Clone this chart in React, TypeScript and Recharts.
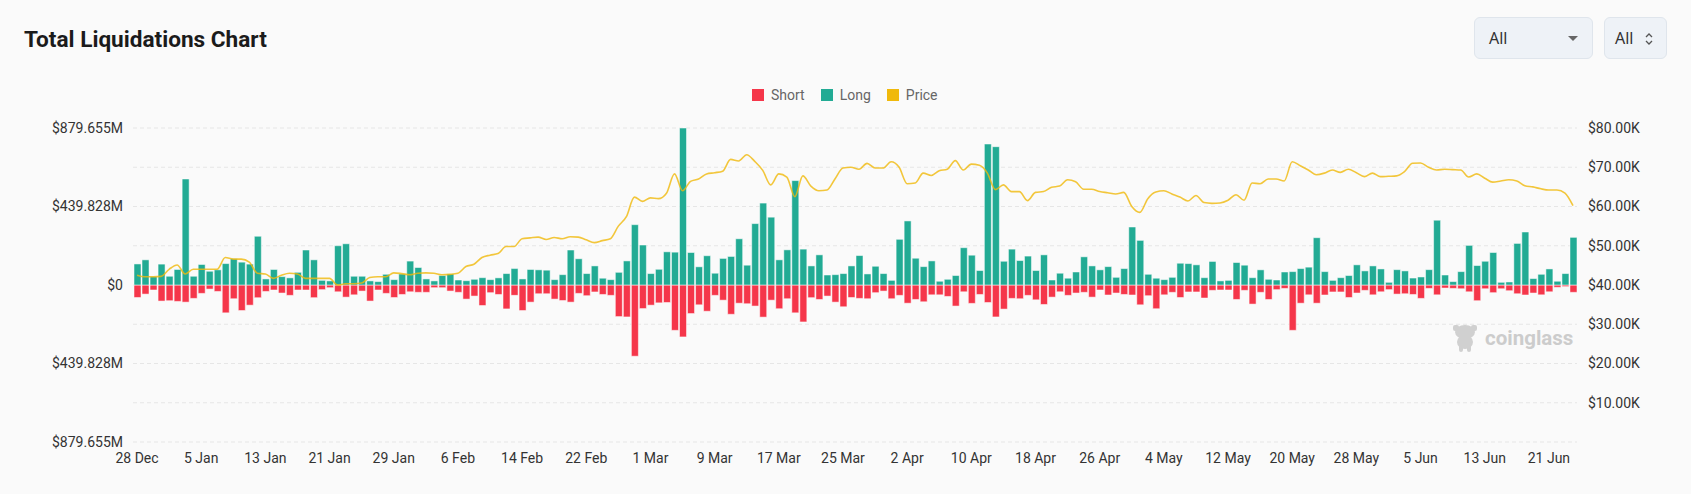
import { ComposedChart, Bar, Line, XAxis, YAxis, CartesianGrid } from 'recharts';

// Calendar spans: 28 Dec 2023 .. 24 Jun 2024, one bar per day
const MONTH_SPANS: [string, number, number][] = [
  ['Dec', 28, 31], ['Jan', 1, 31], ['Feb', 1, 29], ['Mar', 1, 31],
  ['Apr', 1, 30], ['May', 1, 31], ['Jun', 1, 24],
];
const dates = MONTH_SPANS.flatMap(([m, a, b]) =>
  Array.from({ length: b - a + 1 }, (_, k) => `${a + k} ${m}`)
);

// Long liquidations, $M
const longM = [
  118, 141, 47, 117, 49, 87, 594, 49, 115, 77, 85, 120, 147, 128, 117, 273, 34, 87, 47, 40, 71, 196, 141, 26, 23, 220, 231,
  49, 49, 23, 19, 60, 30, 62, 134, 98, 34, 23, 53, 62, 28, 24, 32, 41, 30, 40, 64, 92, 34, 87, 85, 83, 30, 58, 196,
  147, 64, 107, 38, 30, 71, 135, 338, 224, 64, 88, 186, 184, 879.655, 182, 102, 164, 66, 149, 160, 259, 111, 344, 459, 380, 141, 197, 585,
  201, 107, 169, 56, 58, 64, 107, 165, 62, 105, 64, 26, 256, 359, 150, 103, 135, 21, 32, 53, 209, 167, 81, 790, 775, 133, 201, 137, 162, 81, 169, 28,
  66, 38, 73, 158, 107, 85, 103, 43, 92, 325, 250, 60, 38, 30, 43, 122, 120, 113, 41, 132, 23, 26, 126, 111, 41, 85, 32, 28, 73, 75, 92, 100, 265,
  75, 26, 41, 53, 113, 79, 107, 90, 15, 86, 79, 39, 45, 86, 363, 56, 19, 75, 222, 109, 133, 182, 15, 17, 233, 297, 36, 60, 90, 21, 64, 267,
];

// Short liquidations, $M
const shortM = [
  70, 51, 28, 90, 88, 92, 96, 75, 47, 23, 36, 156, 77, 143, 113, 71, 36, 28, 45, 58, 28, 28, 71, 26, 15, 38, 68,
  55, 34, 90, 28, 47, 70, 53, 38, 41, 41, 15, 15, 34, 41, 79, 62, 115, 43, 53, 134, 58, 143, 96, 49, 49, 79, 87, 96,
  47, 60, 39, 53, 58, 177, 179, 399, 132, 113, 100, 98, 254, 291, 160, 111, 147, 58, 85, 164, 102, 105, 118, 180, 85, 133, 77, 156,
  207, 71, 81, 62, 96, 122, 70, 75, 77, 43, 34, 77, 58, 102, 81, 94, 55, 55, 64, 118, 38, 103, 53, 98, 179, 135, 75, 77, 58, 83, 109, 68,
  38, 58, 45, 41, 68, 28, 56, 45, 53, 56, 111, 60, 133, 55, 41, 70, 39, 39, 73, 30, 28, 28, 81, 30, 107, 41, 81, 26, 19, 254, 102, 55, 102,
  56, 39, 39, 70, 45, 30, 55, 38, 26, 51, 49, 53, 75, 19, 55, 17, 19, 21, 38, 88, 21, 43, 21, 32, 49, 56, 45, 55, 38, 13, 9, 41,
];

// BTC price, $K
const priceK = [
  42.5, 42.1, 42.1, 42.2, 44.0, 45.1, 42.8, 44.0, 44.0, 44.0, 44.0, 47.0, 46.6, 46.6, 45.8, 43.0, 42.8, 41.7, 42.5, 43.0, 42.8, 41.7, 41.7, 41.7, 41.7, 40.0, 40.3,
  40.3, 40.5, 41.9, 42.1, 42.1, 43.1, 42.9, 42.6, 43.0, 43.1, 43.0, 42.6, 42.7, 43.0, 44.7, 45.3, 47.0, 47.6, 48.0, 49.8, 49.8, 51.8, 52.0, 52.2, 51.6, 52.1, 51.8, 52.3,
  52.2, 51.5, 50.8, 51.3, 51.8, 55.0, 57.4, 62.4, 61.3, 62.2, 62.0, 63.4, 68.3, 64.0, 66.4, 67.0, 68.3, 68.6, 69.0, 72.0, 71.6, 73.2, 71.5, 69.2, 65.5, 68.3, 67.5, 62.5,
  67.8, 65.2, 64.0, 64.2, 67.0, 69.8, 70.0, 69.5, 71.0, 69.8, 69.8, 71.4, 70.0, 65.8, 66.0, 68.5, 67.9, 69.1, 69.5, 71.7, 69.3, 70.8, 70.5, 68.5, 64.3, 65.5, 63.8, 63.8, 61.5, 63.6, 63.8, 64.9,
  65.2, 66.8, 66.3, 64.4, 64.4, 63.8, 63.5, 63.2, 63.6, 60.0, 58.5, 62.0, 63.7, 64.0, 63.2, 62.4, 61.4, 62.8, 61.0, 60.8, 60.9, 61.6, 63.0, 61.6, 66.0, 65.8, 67.0, 67.0, 66.5, 71.4, 70.4, 69.3, 68.1,
  68.5, 69.3, 68.7, 69.5, 68.6, 67.6, 68.5, 67.6, 67.7, 67.8, 68.9, 71.0, 71.1, 70.0, 69.3, 69.5, 69.4, 69.3, 67.5, 68.3, 67.2, 66.2, 66.5, 66.8, 66.5, 65.3, 65.0, 64.5, 64.2, 64.2, 63.4, 60.2,
];

const leftTicks = [-879.655, -439.828, 0, 439.828, 879.655];
const rightTicks = [0, 10, 20, 30, 40, 50, 60, 70, 80];

const RED = '#f5364a';
const GREEN = '#22ab94';
const YELLOW = '#f0b90b';

const data = dates.map((d, i) => ({
  date: d,
  long: longM[i],
  short: -shortM[i],
  price: priceK[i],
}));

const font = 'Roboto, "Noto Sans", sans-serif';
const tickStyle = { fontSize: 14, fill: '#333', fontFamily: font };

function Select({ left, width, arrows }: { left: number; width: number; arrows?: boolean }) {
  return (
    <div style={{
      position: 'absolute', left, top: 17, width, height: 42, boxSizing: 'border-box',
      background: '#eef2f7', border: '1px solid #dfe5ec', borderRadius: 6,
      fontFamily: '"Noto Sans", sans-serif', fontSize: 16, color: '#333',
    }}>
      <span style={{ position: 'absolute', left: arrows ? 10 : 14, top: 9 }}>All</span>
      {arrows ? (
        <svg style={{ position: 'absolute', left: 38, top: 13 }} width="12" height="16" viewBox="0 0 12 16">
          <path d="M3 6 L6 3 L9 6 M3 10 L6 13 L9 10" fill="none" stroke="#555" strokeWidth="1.3" />
        </svg>
      ) : (
        <svg style={{ position: 'absolute', left: 93, top: 18 }} width="10" height="6" viewBox="0 0 10 6">
          <path d="M0 0 L10 0 L5 5 Z" fill="#666" />
        </svg>
      )}
    </div>
  );
}

function LegendItem({ color, label }: { color: string; label: string }) {
  return (
    <div style={{ display: 'flex', alignItems: 'center', marginRight: 16 }}>
      <div style={{ width: 12, height: 12, background: color, marginRight: 7 }} />
      <span style={{ fontSize: 14, color: '#666', fontFamily: font }}>{label}</span>
    </div>
  );
}

export default function App() {
  return (
    <div style={{ position: 'relative', width: 1691, height: 494, background: '#fafafa', overflow: 'hidden' }}>
      <style>{'body{margin:0;background:#fafafa}'}</style>

      {/* Header */}
      <div style={{
        position: 'absolute', left: 24, top: 28, fontSize: 22.6, lineHeight: '23px',
        fontWeight: 700, color: '#1b1b1b', fontFamily: font,
      }}>
        Total Liquidations Chart
      </div>
      <Select left={1474} width={119} />
      <Select left={1604} width={63} arrows />

      {/* Legend */}
      <div style={{ position: 'absolute', left: 752, top: 86, display: 'flex', height: 18, alignItems: 'center' }}>
        <LegendItem color={RED} label="Short" />
        <LegendItem color={GREEN} label="Long" />
        <LegendItem color={YELLOW} label="Price" />
      </div>

      {/* Watermark */}
      <div style={{ position: 'absolute', left: 1451, top: 323, display: 'flex', alignItems: 'center' }}>
        <svg width="28" height="30" viewBox="0 0 28 30">
          <g fill="#d0d0d0">
            <ellipse cx="14" cy="9" rx="10" ry="7" />
            <rect x="2" y="2" width="6" height="6" rx="2" />
            <rect x="20" y="2" width="6" height="6" rx="2" />
            <ellipse cx="14" cy="19" rx="8" ry="7" />
            <rect x="8" y="22" width="4" height="7" rx="2" />
            <rect x="16" y="22" width="4" height="7" rx="2" />
          </g>
        </svg>
        <span style={{ marginLeft: 6, fontSize: 20.5, fontWeight: 700, color: '#cccccc', fontFamily: font }}>
          coinglass
        </span>
      </div>

      <div style={{ position: 'absolute', left: 0, top: 0 }}>
        <ComposedChart
          width={1691}
          height={494}
          data={data}
          stackOffset="sign"
          barSize={7}
          margin={{ top: 128, right: 0, bottom: 22, left: 0 }}
        >
          <CartesianGrid yAxisId="right" vertical={false} stroke="#e6e6e6" strokeDasharray="4 3" />
          <XAxis
            dataKey="date"
            interval={7}
            height={30}
            tickLine={false}
            axisLine={false}
            tickMargin={5}
            tick={tickStyle}
          />
          <YAxis
            yAxisId="left"
            width={133}
            domain={[-879.655, 879.655]}
            ticks={leftTicks}
            tickLine={false}
            axisLine={false}
            tickMargin={4}
            tick={tickStyle}
            tickFormatter={(v: number) => (v === 0 ? '$0' : `$${Math.abs(v).toFixed(3)}M`)}
          />
          <YAxis
            yAxisId="right"
            orientation="right"
            width={114}
            domain={[0, 80]}
            ticks={rightTicks}
            tickLine={false}
            axisLine={false}
            tickMargin={5}
            tick={{ ...tickStyle, textAnchor: 'start' }}
            tickFormatter={(v: number) => (v === 0 ? '' : `$${v.toFixed(2)}K`)}
          />
          <Bar yAxisId="left" dataKey="short" stackId="liq" fill={RED}
            stroke="rgba(255,255,255,0.5)" strokeWidth={1} isAnimationActive={false} />
          <Bar yAxisId="left" dataKey="long" stackId="liq" fill={GREEN}
            stroke="rgba(255,255,255,0.5)" strokeWidth={1} isAnimationActive={false} />
          <Line yAxisId="right" dataKey="price" type="monotone" stroke={YELLOW}
            strokeOpacity={0.8} strokeWidth={1.6} dot={false} activeDot={false} isAnimationActive={false} />
        </ComposedChart>
      </div>
    </div>
  );
}
